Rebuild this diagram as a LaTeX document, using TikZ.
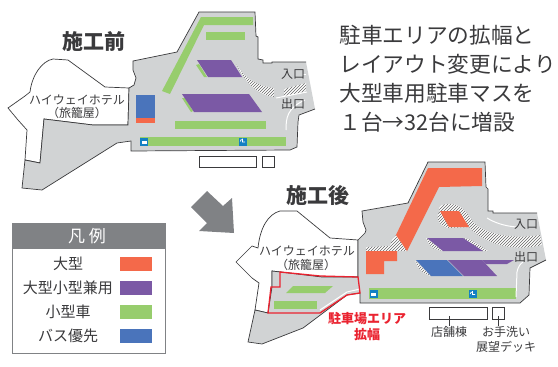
\documentclass[tikz,border=0pt]{standalone}
\usepackage{fontspec}
\setmainfont{Noto Sans CJK JP}
\usetikzlibrary{patterns}
\definecolor{lotgray}{HTML}{D1D3D4}
\definecolor{signgray}{HTML}{808285}
\definecolor{inkgray}{HTML}{3A3A3C}
\definecolor{largeorange}{HTML}{F4694A}
\definecolor{sharedpurple}{HTML}{7B59A5}
\definecolor{smallgreen}{HTML}{97CD6D}
\definecolor{busblue}{HTML}{4A74BB}
\definecolor{iconblue}{HTML}{1380C3}
\definecolor{areared}{HTML}{EA2330}
\begin{document}
\begin{tikzpicture}[x=1pt, y=-1pt, line width=0.7pt,
    lot/.style={fill=lotgray, draw=inkgray},
    hatchzone/.style={fill=white, postaction={pattern=north east lines, pattern color=black!60}},
    road/.style={draw=white, line width=1pt},
    lbl/.style={text=inkgray, inner sep=0pt, font=\fontsize{12}{12}\selectfont},
    title/.style={text=inkgray, inner sep=0pt, font=\fontsize{21}{21}\selectfont\bfseries},
    note/.style={text=inkgray, inner sep=0pt, anchor=west, font=\fontsize{21.7}{22}\selectfont},
    building/.style={draw=inkgray, fill=white, inner sep=0pt},
    swatch/.style={minimum width=32pt, minimum height=14pt, inner sep=0pt},
    icon/.style={fill=iconblue, minimum size=8pt, inner sep=0pt}]
    \useasboundingbox (0,0) rectangle (558,367);

    % before
    \filldraw[fill=white, draw=inkgray] (129,88) -- (105,87) -- (68,60) -- (53,59) .. controls (42,61) and (32,75) .. (30,92)
        -- (25,96) -- (8,108) -- (18,120) -- (27,130) -- (25,160) -- (40,163) -- (44,119) -- (93,125) -- (128,125) -- cycle;
    \path[lot] (315,109) -- (299,115) -- (298,122) -- (297,147) -- (290,150) -- (131,151) -- (131,141) -- (117,143)
        -- (42,190) -- (22,188) -- (25,160) -- (40,163) -- (44,119) -- (93,125) -- (128,125) -- (129,88) -- (134,85)
        -- (136,78) -- (133,70) -- (133,61) -- (177,52) -- (199,12) -- (255,12) -- (256,36) -- (258,37) -- (258,59)
        -- (263,60) -- (263,63) -- (272,63) -- (272,62) -- (306,62);
    \fill[smallgreen] (201,17) -- (253,17) -- (253,25) -- (204,25) -- (170,94) -- (162,91) -- cycle;
    \fill[smallgreen] (196,65) -- (199,64) -- (207,77) -- (204,77) -- cycle;
    \fill[smallgreen] (182,98) -- (185,98) -- (193,111) -- (191,112) -- cycle;
    \foreach \xa/\ya/\xb/\yb in {206/32/245/40, 175/121/266/129, 140/137/286/146}{
        \fill[smallgreen] (\xa,\ya) rectangle (\xb,\yb);
    }
    \fill[sharedpurple] (197,60) -- (231,60) -- (242,77) -- (208,77) -- cycle;
    \fill[sharedpurple] (182,94) -- (249,94) -- (262,112) -- (194,112) -- cycle;
    \fill[busblue] (136,95) rectangle (155,118);
    \fill[largeorange] (136,118) rectangle (155,123);
    \path[hatchzone] (236,64) .. controls (246,80) and (258,86) .. (274,88) -- (274,97) .. controls (262,96) and (248,88) .. (236,64);
    \path[hatchzone] (284,89) -- (306,83) -- (306,91) -- (284,97) -- cycle;
    \draw[road] (276,98) -- (307,92);
    \draw[road] (286,130) .. controls (286,118) and (287,108) .. (305,100);
    \draw[road] (303,74) -- (306,74);

    \node[icon] (busa) at (144,141.5) {};
    \node[icon] (chaira) at (243,141.5) {};
    \fill[white] (141.5,140.5) rectangle (146.5,143.5);
    \draw[white, line width=0.6pt] (242.5,138.5) -- (242.5,142) -- (245,142) (243,140.5) arc (-20:-200:1.5);

    \node[title] (beforetitle) at (94,42) {施工前};
    \node[lbl] (hotela) at (77,100) {ハイウェイホテル};
    \node[lbl] (hotelb) at (77,113) {（旅籠屋）};
    \node[lbl] (ina) at (293,74) {入口};
    \node[lbl] (outa) at (293,104) {出口};
    \node[building, minimum width=57pt, minimum height=11pt] (shopa) at (227.5,161.5) {};
    \node[building, minimum width=12pt, minimum height=11pt] (wca) at (268,161.5) {};

    % note
    \node[note] (notea) at (339,35) {駐車エリアの拡幅と};
    \node[note] (noteb) at (339,64) {レイアウト変更により};
    \node[note] (notec) at (339,93) {大型車用駐車マスを};
    \node[note] (noted) at (339,122) {１台→32台に増設};

    \fill[signgray] (207,191) -- (223,206) -- (232,198) -- (234,233) -- (199,231) -- (207,223) -- (191,207) -- cycle;

    % legend
    \draw[draw=signgray, fill=white] (12,223) rectangle (165,353);
    \fill[signgray] (12,223) rectangle (165,249);
    \node[text=white, inner sep=0pt, font=\fontsize{17}{17}\selectfont] (legendtitle) at (87,236) {凡 例};
    \foreach \y/\t/\c in {264/大型/largeorange, 288/大型小型兼用/sharedpurple, 312/小型車/smallgreen, 336/バス優先/busblue}{
        \node[text=inkgray, inner sep=0pt, font=\fontsize{15}{15}\selectfont] (leg\c) at (68,\y) {\t};
        \node[swatch, fill=\c] (box\c) at (136,\y) {};
    }

    % after
    \filldraw[fill=white, draw=inkgray] (358,240) -- (330,238) -- (297,211) -- (280,211) .. controls (268,214) and (260,228) .. (258,248)
        -- (252,246) -- (236,262) -- (252,278) -- (259,283) -- (255,310) -- (268,313) -- (272,287) -- (272,271) -- (322,277) -- (358,277) -- cycle;
    \path[lot] (546,260) -- (530,268) -- (529,295) -- (520,303) -- (360,303) -- (360,293) -- (347,295) -- (303,328)
        -- (262,344) -- (248,342) -- (255,310) -- (268,313) -- (272,287) -- (272,271) -- (322,277) -- (358,277) -- (358,240)
        -- (365,233) -- (366,230) -- (363,222) -- (362,211) -- (408,203) -- (428,162) -- (485,162) -- (486,187) -- (488,189)
        -- (488,211) -- (493,211) -- (493,213) -- (537,213);
    \path[hatchzone] (366,247) -- (390,246) -- (392,240) -- (396,235) -- (407,251) -- (366,251) -- cycle;
    \path[hatchzone] (440,211) .. controls (436,205) and (447,203) .. (452,204) .. controls (462,205) and (468,214) .. (473,222)
        .. controls (484,233) and (510,240) .. (540,235) -- (542,245) .. controls (515,252) and (485,245) .. (469,227)
        -- (447,228) .. controls (438,225) and (435,216) .. (440,211) -- cycle;
    \path[hatchzone] (426,238) -- (443,251) -- (434,249) .. controls (430,246) and (427,242) .. (426,238) -- cycle;
    \path[hatchzone] (463,238) .. controls (470,238) and (476,243) .. (488,251) -- (483,251) -- cycle;
    \path[hatchzone] (415,261) -- (431,276) .. controls (423,274) and (417,268) .. (415,261) -- cycle;
    \fill[largeorange] (428,168) -- (482,168) -- (482,186) -- (439,187) -- (407,251) -- (396,235) -- cycle;
    \fill[largeorange] (366,251) -- (397,251) -- (397,261) -- (384,261) -- (384,274) -- (366,274) -- cycle;
    \fill[largeorange] (440,211) -- (459,211) -- (469,227) -- (449,227) -- cycle;
    \fill[sharedpurple] (427,238) -- (463,238) -- (483,251) -- (443,251) -- cycle;
    \fill[busblue] (416,260) -- (447,260) -- (463,276) -- (431,276) -- cycle;
    \fill[sharedpurple] (448,260) -- (482,260) -- (497,276) -- (464,276) -- cycle;
    \fill[sharedpurple] (482,260) -- (514,260) -- (507,264) -- (486,264) -- cycle;
    \fill[smallgreen] (369,288) rectangle (516,298.5);
    \fill[smallgreen] (293,286) -- (333,286) -- (325,293) -- (286,293) -- cycle;
    \fill[smallgreen] (274,301) rectangle (317,309);
    \draw[road] (320,310) -- (347,292) -- (360,289);
    \draw[road] (516,297) -- (517,272) .. controls (518,267) and (520,264) .. (523,262);
    \draw[road] (487,218) .. controls (495,223) and (505,226) .. (516,227);

    \node[icon] (busb) at (373.5,294) {};
    \node[icon] (chairb) at (473,294) {};
    \fill[white] (371,293) rectangle (376,296);
    \draw[white, line width=0.6pt] (472.5,291) -- (472.5,294.5) -- (475,294.5) (473,293) arc (-20:-200:1.5);

    \draw[areared, line width=1.3pt] (280,272) -- (320,276) -- (358,277) -- (360,293) -- (347,295) -- (320,313)
        -- (268,313) -- (271,287) -- (280,287) -- cycle;

    \node[title] (aftertitle) at (318,196) {施工後};
    \node[lbl] (hotelc) at (307,251) {ハイウェイホテル};
    \node[lbl] (hoteld) at (306,265) {（旅籠屋）};
    \node[lbl] (inb) at (526,224) {入口};
    \node[lbl] (outb) at (526,257) {出口};
    \node[text=areared, inner sep=0pt, font=\fontsize{13}{13}\selectfont\bfseries] (areaa) at (367,319) {駐車場エリア};
    \node[text=areared, inner sep=0pt, font=\fontsize{13}{13}\selectfont\bfseries] (areab) at (367,335) {拡幅};
    \node[building, minimum width=58pt, minimum height=12pt] (shopb) at (458,313) {};
    \node[building, minimum width=12pt, minimum height=12pt] (wcb) at (498,313) {};
    \node[lbl] (shoplabel) at (449,332) {店舗棟};
    \node[lbl] (wclabel) at (506,332) {お手洗い};
    \node[lbl] (decklabel) at (506,347) {展望デッキ};
    \coordinate (shoptick) at (449,316);
    \coordinate (wctick) at (498,316);
    \draw[inkgray] (shoptick) -- (shoptick |- shoplabel.north);
    \draw[inkgray] (wctick) -- (wctick |- wclabel.north);
\end{tikzpicture}
\end{document}
